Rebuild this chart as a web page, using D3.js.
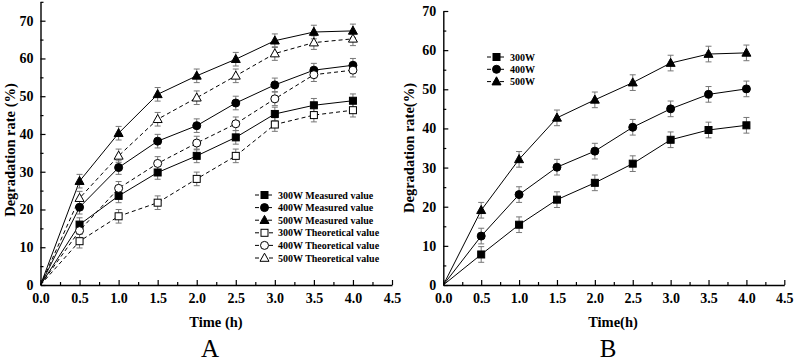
<!DOCTYPE html>
<html><head><meta charset="utf-8">
<script src="https://cdn.jsdelivr.net/npm/d3@7"></script>
<style>body{margin:0;background:#fff}svg{display:block}</style>
</head><body><svg id="c" width="796" height="364"></svg>
<script>
const times = [0, 0.5, 1.0, 1.5, 2.0, 2.5, 3.0, 3.5, 4.0];
// Panel A measured
const a300M = [0, 16.0, 23.6, 29.8, 34.2, 39.1, 45.3, 47.6, 48.8];
const a400M = [0, 20.6, 31.1, 38.1, 42.2, 48.2, 53.0, 56.9, 58.2];
const a500M = [0, 27.5, 40.2, 50.5, 55.4, 59.8, 64.7, 67.0, 67.3];
// Panel A theoretical
const a300T = [0, 11.6, 18.2, 21.8, 28.1, 34.2, 42.5, 45.0, 46.3];
const a400T = [0, 14.4, 25.6, 32.2, 37.6, 42.7, 49.3, 55.7, 56.9];
const a500T = [0, 23.0, 34.2, 43.9, 49.6, 55.4, 61.3, 64.2, 65.2];
const errA = 1.8;
// Panel B
const b300 = [0, 7.8, 15.4, 21.8, 26.1, 31.0, 37.1, 39.6, 40.8];
const b400 = [0, 12.5, 23.1, 30.1, 34.2, 40.3, 45.0, 48.7, 50.1];
const b500 = [0, 19.1, 32.1, 42.7, 47.3, 51.7, 56.7, 59.0, 59.3];
const errB = 2.0;
const xTicks = [0, 0.5, 1.0, 1.5, 2.0, 2.5, 3.0, 3.5, 4.0, 4.5];
const yTicks = [0, 10, 20, 30, 40, 50, 60, 70];
const legendA = ["300W Measured value","400W Measured value","500W Measured value","300W Theoretical value","400W Theoretical value","500W Theoretical value"];
const legendB = ["300W","400W","500W"];

const svg = d3.select("#c");
const FONT = "'Liberation Serif','Times New Roman',serif";

function marker(g, shape, filled, x, y) {
  const fill = filled ? "#000" : "#fff";
  if (shape === "square") {
    g.append("rect").attr("x", x-3.5).attr("y", y-3.5).attr("width", 7).attr("height", 7)
      .attr("fill", fill).attr("stroke", "#000").attr("stroke-width", 1);
  } else if (shape === "circle") {
    g.append("circle").attr("cx", x).attr("cy", y).attr("r", 4)
      .attr("fill", fill).attr("stroke", "#000").attr("stroke-width", 1);
  } else {
    g.append("path").attr("d", `M${x},${y-4.8}L${x+4.5},${y+3.3}L${x-4.5},${y+3.3}Z`)
      .attr("fill", fill).attr("stroke", "#000").attr("stroke-width", 1);
  }
}

function panel(cfg) {
  const x = d3.scaleLinear().domain([0, 4.5]).range([cfg.x0, cfg.x1]);
  const y = d3.scaleLinear().domain([0, cfg.ymax]).range([cfg.y0, cfg.y0 - (cfg.y0 - cfg.y70) * cfg.ymax / 70]);
  const g = svg.append("g");
  const xMinor = d3.range(0.25, 4.5, 0.5);
  const yMinor = d3.range(5, cfg.ymax + 0.01, 10);
  const xa = g.append("g").attr("transform", `translate(0,${cfg.y0})`)
    .call(d3.axisBottom(x).tickValues(xTicks).tickFormat(d3.format(".1f")).tickSizeInner(-5).tickSizeOuter(0).tickPadding(8));
  xa.selectAll("text").attr("font-family", FONT).attr("font-weight", "bold").attr("font-size", 14).attr("fill","#000");
  g.append("g").attr("transform", `translate(0,${cfg.y0})`)
    .call(d3.axisBottom(x).tickValues(xMinor).tickFormat("").tickSizeInner(-3).tickSizeOuter(0))
    .select(".domain").remove();
  const ya = g.append("g").attr("transform", `translate(${cfg.x0},0)`)
    .call(d3.axisLeft(y).tickValues(yTicks).tickSizeInner(-5).tickSizeOuter(0).tickPadding(7));
  ya.selectAll("text").attr("font-family", FONT).attr("font-weight", "bold").attr("font-size", 14).attr("fill","#000");
  g.append("g").attr("transform", `translate(${cfg.x0},0)`)
    .call(d3.axisLeft(y).tickValues(yMinor).tickFormat("").tickSizeInner(-3).tickSizeOuter(0))
    .select(".domain").remove();
  g.selectAll(".domain").attr("stroke", "#000").attr("stroke-width", 1.4);
  g.selectAll(".tick line").attr("stroke", "#000").attr("stroke-width", 1.2);

  const line = d3.line().x((d, i) => x(times[i])).y(d => y(d));
  cfg.series.forEach(s => {
    g.append("path").datum(s.values).attr("d", line).attr("fill", "none")
      .attr("stroke", "#000").attr("stroke-width", 1)
      .attr("stroke-dasharray", s.dashed ? "4,3" : null);
  });
  cfg.series.forEach(s => {
    s.values.forEach((v, i) => {
      if (i === 0) return;
      const cx = x(times[i]);
      const e1 = y(v + cfg.err), e2 = y(v - cfg.err);
      g.append("line").attr("x1", cx).attr("x2", cx).attr("y1", e1).attr("y2", e2).attr("stroke", "#777").attr("stroke-width", 1);
      [e1, e2].forEach(ey => g.append("line").attr("x1", cx-3).attr("x2", cx+3).attr("y1", ey).attr("y2", ey).attr("stroke", "#777").attr("stroke-width", 1));
    });
  });
  cfg.series.forEach(s => {
    s.values.forEach((v, i) => {
      if (i === 0) return;
      marker(g, s.shape, s.filled, x(times[i]), y(v));
    });
  });
  // legend
  cfg.legend.forEach((lab, i) => {
    const s = cfg.series[i];
    const ly = cfg.ly + i * cfg.lstep;
    g.append("line").attr("x1", cfg.lx).attr("x2", cfg.lx + 19).attr("y1", ly).attr("y2", ly)
      .attr("stroke", "#000").attr("stroke-width", 1).attr("stroke-dasharray", s.dashed ? "4,3" : "4,2.5");
    marker(g, s.shape, s.filled, cfg.lx + 9.5, ly);
    g.append("text").attr("x", cfg.lx + 23).attr("y", ly + 3.5).text(lab)
      .attr("font-family", FONT).attr("font-weight", "bold").attr("font-size", 10);
  });
  // titles
  g.append("text").attr("x", cfg.xtX).attr("y", 327).attr("text-anchor", "middle").text(cfg.xTitle)
    .attr("font-family", FONT).attr("font-weight", "bold").attr("font-size", 14.5);
  g.append("text").attr("transform", `translate(${cfg.ytX},${cfg.ytY}) rotate(-90)`).attr("text-anchor", "middle").text(cfg.yTitle)
    .attr("font-family", FONT).attr("font-weight", "bold").attr("font-size", 14.5);
  g.append("text").attr("x", cfg.pX).attr("y", 357).attr("text-anchor", "middle").text(cfg.panel)
    .attr("font-family", FONT).attr("font-size", 25);
}

panel({
  x0: 40.5, x1: 392, y0: 285, y70: 20.7, ymax: 75, err: errA,
  series: [
    {values: a300M, shape: "square", filled: true, dashed: false},
    {values: a400M, shape: "circle", filled: true, dashed: false},
    {values: a500M, shape: "triangle", filled: true, dashed: false},
    {values: a300T, shape: "square", filled: false, dashed: true},
    {values: a400T, shape: "circle", filled: false, dashed: true},
    {values: a500T, shape: "triangle", filled: false, dashed: true}
  ],
  legend: legendA, lx: 255, ly: 195, lstep: 12.6,
  xTitle: "Time (h)", xtX: 216, ytX: 15, ytY: 150, yTitle: "Degradation rate (%)", panel: "A", pX: 210
});
panel({
  x0: 443.3, x1: 784.3, y0: 285, y70: 11, ymax: 70, err: errB,
  series: [
    {values: b300, shape: "square", filled: true, dashed: false},
    {values: b400, shape: "circle", filled: true, dashed: false},
    {values: b500, shape: "triangle", filled: true, dashed: false}
  ],
  legend: legendB, lx: 487, ly: 57, lstep: 12.3,
  xTitle: "Time(h)", xtX: 613, ytX: 414, ytY: 148, yTitle: "Degradation rate(%)", panel: "B", pX: 608
});
</script></body></html>
